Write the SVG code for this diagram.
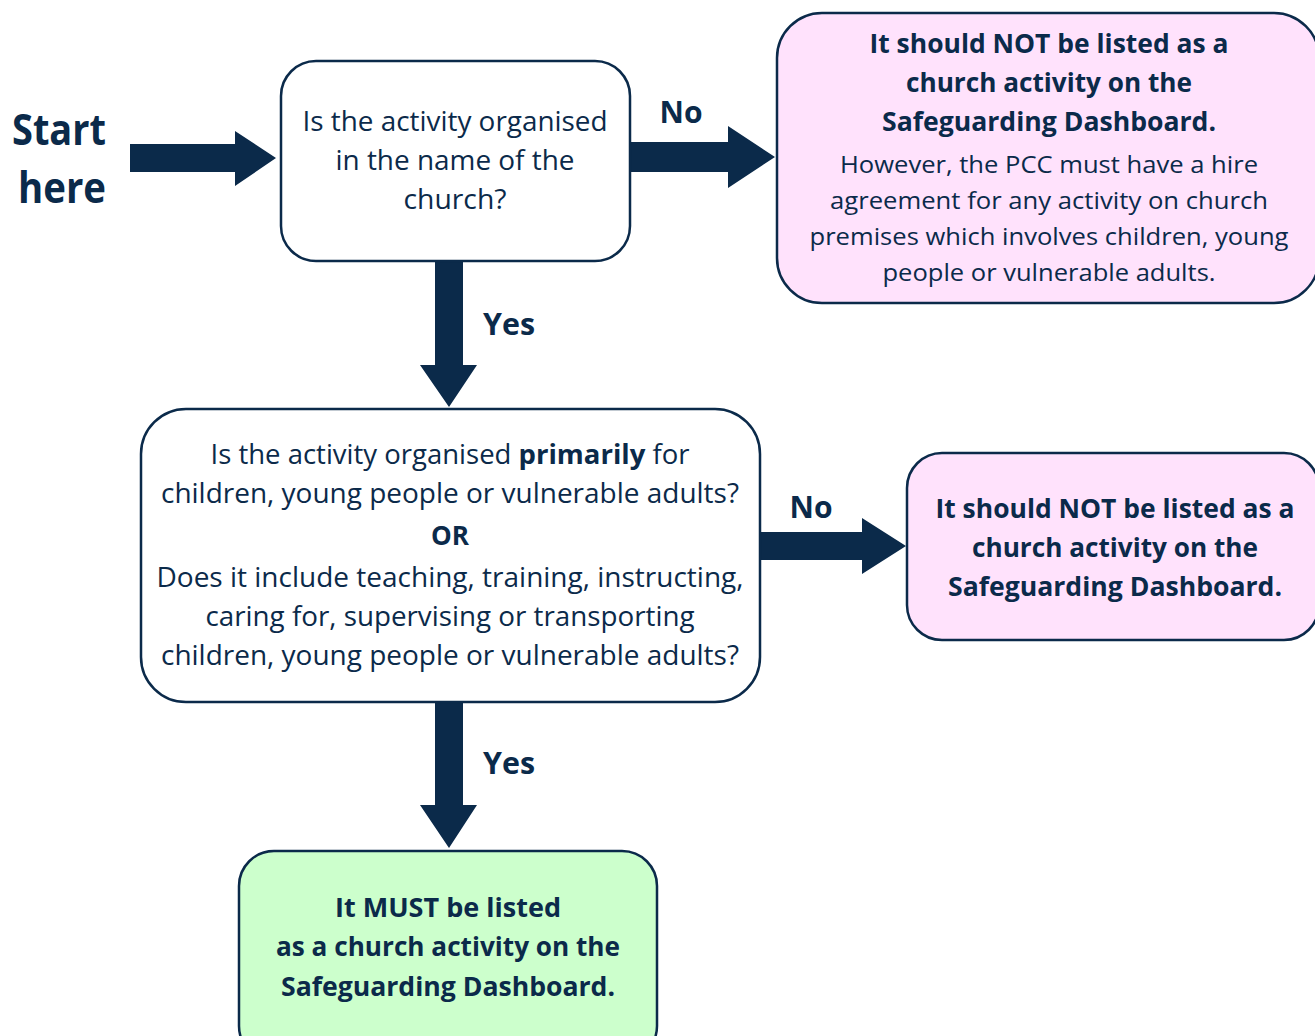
<svg xmlns="http://www.w3.org/2000/svg" width="1315" height="1036" viewBox="0 0 1315 1036">
<style>
.box{stroke:#0b2a4a;stroke-width:2.5}
.q{fill:#ffffff}
.pink{fill:#ffe2fc}
.green{fill:#ccffcc}
text{font-family:"Open Sans","Noto Sans","Liberation Sans",sans-serif;fill:#0b2a4a;text-anchor:middle}
.r{font-size:26.5px}
.rs{font-size:24px}
.b{font-size:27px;font-weight:bold}
.lbl{font-size:31px;font-weight:bold}
.start{font-size:43px;font-weight:bold}
.arrow{fill:#0b2a4a}
</style>
<rect width="1315" height="1036" fill="#ffffff"/>
<g id="connectors">
<polygon class="arrow" points="130,144 235,144 235,131 276,158 235,186 235,172 130,172"/>
<polygon class="arrow" points="630,142 728,142 728,126 775,157 728,188 728,172 630,172"/>
<polygon class="arrow" points="435,261 463,261 463,365 477,365 449,407 420,365 435,365"/>
<polygon class="arrow" points="760,532 862,532 862,518 906,546 862,574 862,560 760,560"/>
<polygon class="arrow" points="435,702 463,702 463,805 477,805 449,848 420,805 435,805"/>
<text class="lbl" x="681" y="123" textLength="43" lengthAdjust="spacingAndGlyphs">No</text>
<text class="lbl" x="509" y="335" textLength="52" lengthAdjust="spacingAndGlyphs">Yes</text>
<text class="lbl" x="811" y="518" textLength="43" lengthAdjust="spacingAndGlyphs">No</text>
<text class="lbl" x="509" y="774" textLength="52" lengthAdjust="spacingAndGlyphs">Yes</text>
</g>
<g id="start">
<text class="start" x="59" y="145" textLength="94" lengthAdjust="spacingAndGlyphs">Start</text>
<text class="start" x="62" y="203" textLength="88" lengthAdjust="spacingAndGlyphs">here</text>
</g>
<g id="q1">
<rect class="box q" x="281" y="61" width="349" height="200" rx="35"/>
<text class="r" x="455" y="131" textLength="305" lengthAdjust="spacingAndGlyphs">Is the activity organised</text>
<text class="r" x="455" y="170" textLength="239" lengthAdjust="spacingAndGlyphs">in the name of the</text>
<text class="r" x="455" y="209" textLength="103" lengthAdjust="spacingAndGlyphs">church?</text>
</g>
<g id="not1">
<rect class="box pink" x="777" y="13" width="542" height="290" rx="45"/>
<text class="b" x="1049" y="53" textLength="359" lengthAdjust="spacingAndGlyphs">It should NOT be listed as a</text>
<text class="b" x="1049" y="92" textLength="286" lengthAdjust="spacingAndGlyphs">church activity on the</text>
<text class="b" x="1049" y="131" textLength="334" lengthAdjust="spacingAndGlyphs">Safeguarding Dashboard.</text>
<text class="rs" x="1049" y="173" textLength="418" lengthAdjust="spacingAndGlyphs">However, the PCC must have a hire</text>
<text class="rs" x="1049" y="209" textLength="438" lengthAdjust="spacingAndGlyphs">agreement for any activity on church</text>
<text class="rs" x="1049" y="245" textLength="479" lengthAdjust="spacingAndGlyphs">premises which involves children, young</text>
<text class="rs" x="1049" y="281" textLength="333" lengthAdjust="spacingAndGlyphs">people or vulnerable adults.</text>
</g>
<g id="q2">
<rect class="box q" x="141" y="409" width="619" height="293" rx="45"/>
<text class="r" x="450" y="464" textLength="479" lengthAdjust="spacingAndGlyphs">Is the activity organised <tspan font-weight="bold">primarily</tspan> for</text>
<text class="r" x="450" y="503" textLength="578" lengthAdjust="spacingAndGlyphs">children, young people or vulnerable adults?</text>
<text class="b" x="450" y="545" textLength="38" lengthAdjust="spacingAndGlyphs">OR</text>
<text class="r" x="450" y="587" textLength="587" lengthAdjust="spacingAndGlyphs">Does it include teaching, training, instructing,</text>
<text class="r" x="450" y="626" textLength="489" lengthAdjust="spacingAndGlyphs">caring for, supervising or transporting</text>
<text class="r" x="450" y="665" textLength="578" lengthAdjust="spacingAndGlyphs">children, young people or vulnerable adults?</text>
</g>
<g id="not2">
<rect class="box pink" x="907" y="453" width="412" height="187" rx="35"/>
<text class="b" x="1115" y="518" textLength="359" lengthAdjust="spacingAndGlyphs">It should NOT be listed as a</text>
<text class="b" x="1115" y="557" textLength="286" lengthAdjust="spacingAndGlyphs">church activity on the</text>
<text class="b" x="1115" y="596" textLength="334" lengthAdjust="spacingAndGlyphs">Safeguarding Dashboard.</text>
</g>
<g id="must">
<rect class="box green" x="239" y="851" width="418" height="210" rx="35"/>
<text class="b" x="448" y="917" textLength="226" lengthAdjust="spacingAndGlyphs">It MUST be listed</text>
<text class="b" x="448" y="956" textLength="344" lengthAdjust="spacingAndGlyphs">as a church activity on the</text>
<text class="b" x="448" y="996" textLength="334" lengthAdjust="spacingAndGlyphs">Safeguarding Dashboard.</text>
</g>
</svg>
